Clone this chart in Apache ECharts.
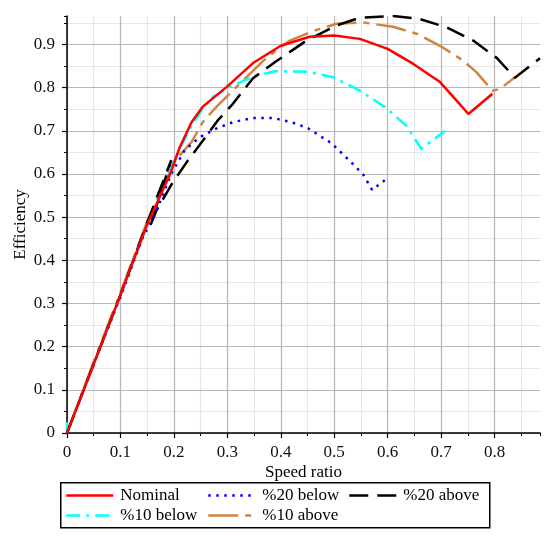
<!DOCTYPE html>
<html>
<head>
<meta charset="utf-8">
<script src="https://cdn.jsdelivr.net/npm/echarts@6/dist/echarts.min.js"></script>
<style>
  html, body { margin: 0; padding: 0; background: #fff; }
  #chart { width: 547px; height: 542px; }
</style>
</head>
<body>
<div id="chart"></div>
<script>
// Efficiency vs speed ratio, [speed ratio, efficiency] pairs per operating case
const nominal = [
  [0, 0], [0.05, 0.16], [0.1, 0.32], [0.15, 0.483], [0.192, 0.597], [0.211, 0.662],
  [0.233, 0.72], [0.254, 0.756], [0.3, 0.803], [0.348, 0.857], [0.4, 0.897],
  [0.454, 0.918], [0.5, 0.921], [0.548, 0.913], [0.6, 0.89], [0.648, 0.855],
  [0.698, 0.813], [0.729, 0.77], [0.751, 0.739], [0.796, 0.786]
];
const below20 = [
  [0, 0], [0.05, 0.16], [0.1, 0.315], [0.142, 0.454], [0.161, 0.496], [0.195, 0.6],
  [0.22, 0.655], [0.248, 0.685], [0.279, 0.705], [0.31, 0.72], [0.348, 0.73],
  [0.385, 0.73], [0.42, 0.72], [0.451, 0.706], [0.495, 0.671], [0.532, 0.627],
  [0.554, 0.599], [0.571, 0.563], [0.599, 0.59]
];
const above20 = [
  [0, 0], [0.05, 0.16], [0.1, 0.32], [0.15, 0.487], [0.195, 0.632], [0.155, 0.478],
  [0.167, 0.515], [0.198, 0.581], [0.226, 0.631], [0.254, 0.677], [0.282, 0.724],
  [0.31, 0.762], [0.348, 0.822], [0.39, 0.86], [0.448, 0.909], [0.504, 0.944],
  [0.548, 0.962], [0.61, 0.966], [0.66, 0.959], [0.71, 0.94], [0.76, 0.909],
  [0.804, 0.869], [0.838, 0.823], [0.885, 0.868]
];
const below10 = [
  [0, 0.025], [0, 0], [0.05, 0.16], [0.1, 0.32], [0.15, 0.485], [0.2, 0.63],
  [0.23, 0.705], [0.254, 0.752], [0.273, 0.778], [0.31, 0.805], [0.354, 0.828],
  [0.39, 0.838], [0.451, 0.837], [0.498, 0.824], [0.548, 0.793], [0.595, 0.755],
  [0.635, 0.712], [0.663, 0.658], [0.707, 0.7]
];
const above10 = [
  [0, 0], [0.05, 0.165], [0.1, 0.325], [0.15, 0.49], [0.2, 0.625], [0.211, 0.643],
  [0.233, 0.674], [0.254, 0.72], [0.279, 0.755], [0.323, 0.809], [0.367, 0.862],
  [0.398, 0.893], [0.417, 0.909], [0.46, 0.931], [0.504, 0.948], [0.554, 0.951],
  [0.61, 0.941], [0.654, 0.925], [0.698, 0.897], [0.741, 0.863], [0.766, 0.836],
  [0.796, 0.793], [0.81, 0.797], [0.84, 0.826]
];

const seriesNames = ['Nominal', '%20 below', '%20 above', '%10 below', '%10 above'];
const seriesData = [nominal, below20, above20, below10, above10];
const seriesColors = ['#ff0000', '#0000ff', '#000000', '#00ffff', '#cd853f'];
const seriesDash = ['solid', [2.5, 5.5], [19, 9], [14, 6, 3, 6], [30, 7, 6, 7]];

const X_MAX = 0.885;
const Y_MAX = 0.966;
const FONT = 'Liberation Serif';

const chart = echarts.init(document.getElementById('chart'), null, { renderer: 'canvas' });

const majorLabel = {
  show: true, showMaxLabel: false, fontFamily: FONT, fontSize: 17, color: '#111',
  formatter: v => (Math.abs(v * 10 - Math.round(v * 10)) < 1e-6 ? String(+v.toFixed(1)) : '')
};

function majorAxis(extra) {
  return Object.assign({
    type: 'value',
    min: 0,
    interval: 0.1,
    z: 3,
    axisLine: { show: true, onZero: false, lineStyle: { color: '#000', width: 1.5 } },
    axisTick: { show: true, inside: false, length: 5, lineStyle: { color: '#000', width: 1.2 } },
    axisLabel: majorLabel,
    splitLine: { show: true, showMaxLine: false, lineStyle: { color: '#b8b8b8', width: 1.2 } }
  }, extra);
}

function minorAxis(extra) {
  return Object.assign({
    type: 'value',
    min: 0,
    interval: 0.05,
    z: 1,
    axisLine: { show: false },
    axisTick: { show: true, inside: false, length: 3, lineStyle: { color: '#000', width: 1 } },
    axisLabel: { show: false },
    splitLine: { show: true, showMaxLine: false, lineStyle: { color: '#e6e6e6', width: 1.2 } }
  }, extra);
}

const legendPos = [
  { left: 65, top: 487 },
  { left: 207, top: 487 },
  { left: 348, top: 487 },
  { left: 65, top: 507 },
  { left: 207, top: 507 }
];

const option = {
  animation: false,
  backgroundColor: '#ffffff',
  grid: { left: 67, right: 7, top: 16, bottom: 109, outerBoundsMode: 'none', containLabel: false },
  xAxis: [
    majorAxis({
      max: X_MAX,
      axisLabel: Object.assign({}, majorLabel, { margin: 11 }),
      name: 'Speed ratio', nameLocation: 'middle', nameGap: 31, nameMoveOverlap: false,
      nameTextStyle: { fontFamily: FONT, fontSize: 17, color: '#000' }
    }),
    minorAxis({ max: X_MAX, position: 'bottom' })
  ],
  yAxis: [
    majorAxis({
      max: Y_MAX,
      axisLabel: Object.assign({}, majorLabel, { margin: 12 }),
      name: 'Efficiency', nameLocation: 'middle', nameGap: 38, nameRotate: 90,
      nameMoveOverlap: false,
      nameTextStyle: { fontFamily: FONT, fontSize: 17, color: '#000' }
    }),
    minorAxis({ max: Y_MAX, position: 'left' })
  ],
  legend: seriesNames.map((name, i) => ({
    data: [name],
    left: legendPos[i].left,
    top: legendPos[i].top,
    padding: 0,
    itemGap: 0,
    itemWidth: 47,
    itemHeight: 14,
    selectedMode: false,
    itemStyle: { opacity: 0, color: 'transparent', borderWidth: 0 },
    lineStyle: { width: 'inherit' },
    textStyle: { fontFamily: FONT, fontSize: 17, color: '#000', padding: [0, 0, 0, 2] }
  })),
  graphic: [{
    type: 'rect',
    left: 60, top: 482,
    shape: { width: 429, height: 45 },
    style: { fill: 'transparent', stroke: '#000', lineWidth: 1.5 },
    z: 100
  }],
  series: seriesNames.map((name, i) => ({
    name: name,
    type: 'line',
    xAxisIndex: 0,
    yAxisIndex: 0,
    data: seriesData[i],
    showSymbol: false,
    symbol: 'none',
    clip: true,
    z: 10 - i,
    color: seriesColors[i],
    lineStyle: { color: seriesColors[i], width: 2.5, type: seriesDash[i], cap: 'butt' }
  }))
};

chart.setOption(option);
</script>
</body>
</html>
